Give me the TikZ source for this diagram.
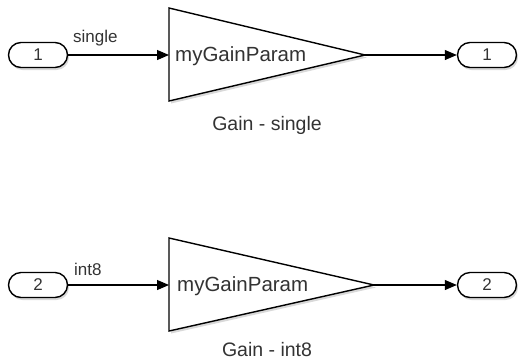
\documentclass[tikz,border=0pt]{standalone}
\usepackage{fontspec}
\setmainfont{Liberation Sans}
\usetikzlibrary{arrows.meta,shadows,calc}
\definecolor{txt}{HTML}{333333}
\tikzset{
  port/.style={draw=black, line width=1.4pt, fill=white, rounded corners=12.5pt,
    minimum width=59pt, minimum height=25pt, inner sep=0pt, text=txt,
    font=\fontsize{17}{17}\selectfont,
    drop shadow={shadow xshift=1.5pt, shadow yshift=-2.5pt, opacity=0.3, fill=gray}},
  gain/.style={draw=black, line width=1.4pt, fill=white,
    drop shadow={shadow xshift=2pt, shadow yshift=-2.5pt, opacity=0.3, fill=gray}},
  sig/.style={draw=black, line width=1.1pt, -{Triangle[length=12pt,width=10pt]}},
  lbl/.style={text=txt, font=\fontsize{17}{17}\selectfont, inner sep=0pt},
  nm/.style={text=txt, font=\fontsize{19.5}{19.5}\selectfont, inner sep=0pt},
  blk/.style={text=txt, font=\fontsize{20.5}{20.5}\selectfont, inner sep=0pt, anchor=west},
}
\begin{document}
\begin{tikzpicture}[x=1pt,y=-1pt]
\useasboundingbox (0,0) rectangle (518,360);
% top row
\node[port] (in1) at (38,55) {1};
\node[port] (out1) at (487,55) {1};
\path[gain] (169,8) -- (169,101) -- (365,55) -- cycle;
\coordinate (g1in) at (169,55);
\coordinate (g1out) at (365,55);
\node[blk] (t1) at (175,56) {myGainParam};
\node[nm] (n1) at (267,125) {Gain - single};
\draw[sig] (in1.east) -- (g1in);
\draw[sig] (g1out) -- (out1.west);
\node[lbl, anchor=south west] (s1) at (73,46) {single};
% bottom row
\node[port] (in2) at (38,285) {2};
\node[port] (out2) at (487,285) {2};
\path[gain] (169,238) -- (169,331) -- (374,285) -- cycle;
\coordinate (g2in) at (169,285);
\coordinate (g2out) at (374,285);
\node[blk] (t2) at (177,286) {myGainParam};
\node[nm] (n2) at (267,350) {Gain - int8};
\draw[sig] (in2.east) -- (g2in);
\draw[sig] (g2out) -- (out2.west);
\node[lbl, anchor=south west] (s2) at (74,276) {int8};
\end{tikzpicture}
\end{document}
